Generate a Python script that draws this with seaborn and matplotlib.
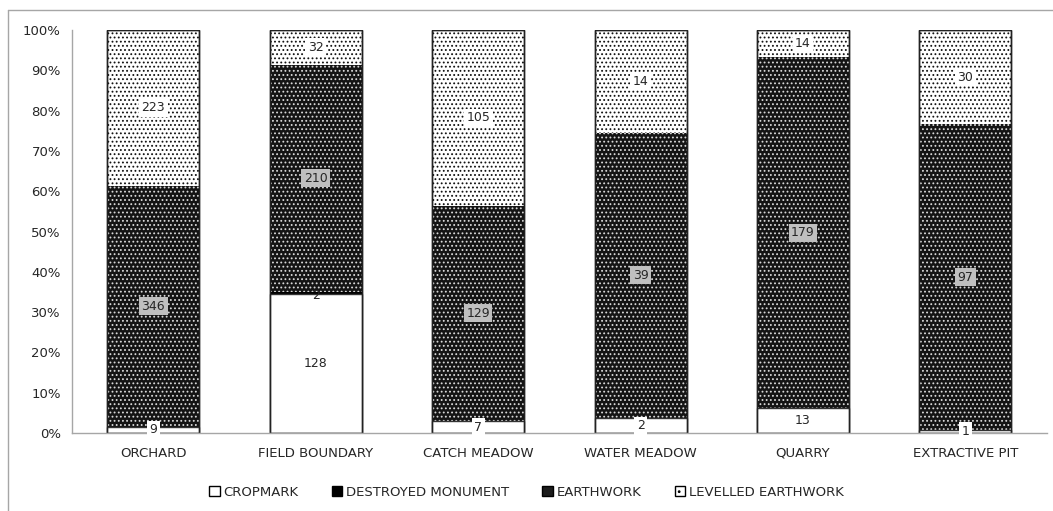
import matplotlib
matplotlib.use("Agg")
import matplotlib.pyplot as plt
import seaborn as sns
import numpy as np
import pandas as pd
from matplotlib.lines import Line2D
from matplotlib.patches import Patch

categories = ["ORCHARD", "FIELD BOUNDARY", "CATCH MEADOW", "WATER MEADOW", "QUARRY", "EXTRACTIVE PIT"]
cropmark = [9, 128, 7, 2, 13, 1]
destroyed = [0, 2, 0, 0, 0, 0]
earthwork = [346, 210, 129, 39, 179, 97]
levelled = [223, 32, 105, 14, 14, 30]
series_names = ["CROPMARK", "DESTROYED MONUMENT", "EARTHWORK", "LEVELLED EARTHWORK"]

sns.set_style("white")
plt.rcParams["font.family"] = ["DejaVu Sans"]
plt.rcParams["hatch.linewidth"] = 0.8

counts = np.array([cropmark, destroyed, earthwork, levelled], dtype=float)
pct = counts / counts.sum(axis=0) * 100
cum = pct.cumsum(axis=0)

df = pd.DataFrame({"category": categories})
for i, name in enumerate(series_names):
    df[name] = cum[i]

fig = plt.figure(figsize=(10.53, 5.11), dpi=100)
ax = fig.add_axes([0.0684, 0.1526, 0.9256, 0.7886])

width = 0.566
# draw cumulative bars from the top layer down so each one covers the next
styles = {
    "LEVELLED EARTHWORK": dict(color="white", edgecolor="#111111", hatch="....", linewidth=1.0),
    "EARTHWORK": dict(color="#141414", edgecolor="#d9d9d9", hatch="....", linewidth=0),
    "DESTROYED MONUMENT": dict(color="black", edgecolor="black", linewidth=0),
    "CROPMARK": dict(color="white", edgecolor="#333333", linewidth=1.0),
}
for name in series_names[::-1]:
    sns.barplot(data=df, x="category", y=name, order=categories, width=width,
                ax=ax, **styles[name])

# outline the bars once more on top
for i in range(len(categories)):
    ax.bar(i, 100, width=width, fill=False, edgecolor="#222222", linewidth=1.0)

# segment labels
for i in range(len(categories)):
    bottoms = np.concatenate([[0], cum[:-1, i]])
    for s in range(4):
        if counts[s, i] == 0:
            continue
        yc = bottoms[s] + pct[s, i] / 2
        if s == 2:
            box = dict(boxstyle="square,pad=0.2", fc="#bfbfbf", ec="none")
        elif s == 1:
            box = None
            yc = bottoms[s] - 0.3
        else:
            box = dict(boxstyle="square,pad=0.2", fc="white", ec="none")
        ax.text(i, yc, f"{int(counts[s, i])}", ha="center", va="center",
                fontsize=9, color="#262626", bbox=box)

ax.set_ylim(0, 100)
ax.set_xlim(-0.5, len(categories) - 0.5)
ax.set_yticks(np.arange(0, 101, 10))
ax.set_yticklabels([f"{v}%" for v in range(0, 101, 10)])
ax.set_xlabel("")
ax.set_ylabel("")
ax.tick_params(axis="both", labelsize=9.5, colors="#262626", length=0, pad=8)
ax.tick_params(axis="x", pad=10)
sns.despine(ax=ax, top=True, right=True)
for sp in ["left", "bottom"]:
    ax.spines[sp].set_color("#a6a6a6")
    ax.spines[sp].set_linewidth(1.0)

handles = [
    Patch(facecolor="white", edgecolor="black", label=series_names[0]),
    Patch(facecolor="black", edgecolor="black", label=series_names[1]),
    Patch(facecolor="#1c1c1c", edgecolor="black", label=series_names[2]),
    Patch(facecolor="white", edgecolor="black", hatch="..", label=series_names[3]),
]
fig.legend(handles=handles, loc="center", bbox_to_anchor=(0.5, 0.037), ncol=4,
           frameon=False, fontsize=9.5, handlelength=0.8, handleheight=0.8,
           handletextpad=0.3, columnspacing=2.5, labelcolor="#262626")

# outer chart frame
fig.add_artist(Line2D([0.0076, 0.0076], [0, 0.980], transform=fig.transFigure,
                      color="#a6a6a6", linewidth=1.0))
fig.add_artist(Line2D([0.0076, 1.0], [0.980, 0.980], transform=fig.transFigure,
                      color="#a6a6a6", linewidth=1.0))

fig.savefig("out.png", dpi=100)
